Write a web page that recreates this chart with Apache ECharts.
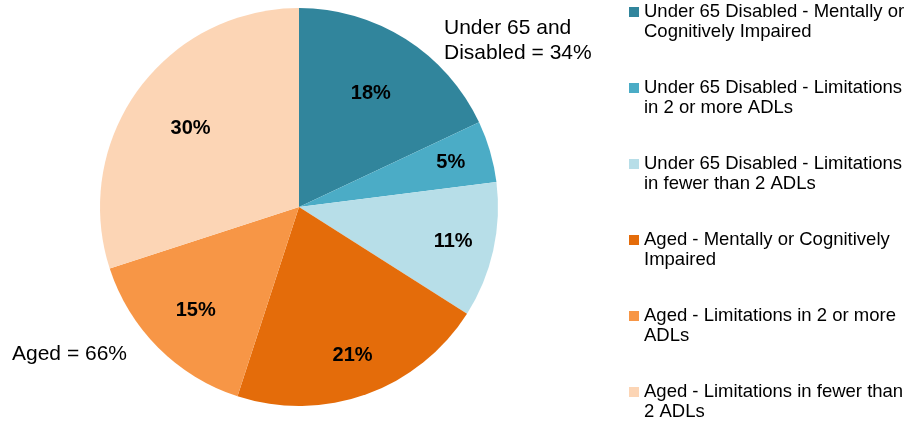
<!DOCTYPE html>
<html>
<head>
<meta charset="utf-8">
<script src="https://cdn.jsdelivr.net/npm/echarts@6/dist/echarts.min.js"></script>
<style>
  html, body { margin: 0; padding: 0; background: #fff; }
  #chart { width: 909px; height: 423px; }
</style>
</head>
<body>
<div id="chart"></div>
<script>
// Long-term care users by age group and level of impairment (percent of total)
const categories = [
  'Under 65 Disabled - Mentally or\nCognitively Impaired',
  'Under 65 Disabled - Limitations\nin 2 or more ADLs',
  'Under 65 Disabled - Limitations\nin fewer than 2 ADLs',
  'Aged - Mentally or Cognitively\nImpaired',
  'Aged - Limitations in 2 or more\nADLs',
  'Aged - Limitations in fewer than\n2 ADLs'
];
const shares = [18, 5, 11, 21, 15, 30];
const colors = ['#31859C', '#4BACC6', '#B7DEE8', '#E46C0A', '#F79646', '#FCD5B5'];
const groupTotals = ['Under 65 and\nDisabled = 34%', 'Aged = 66%'];

// value labels sit at three distances from the centre
const nearLabelSlices = [0, 5];
const midLabelSlices = [4];
const farLabelSlices = [1, 2, 3];

const FONT = 'Liberation Sans, Arial, sans-serif';
const CENTER = [299, 207];
const R = 199;

function sliceData(showIdx) {
  return categories.map((name, i) => ({
    name,
    value: shares[i],
    label: { show: showIdx ? showIdx.includes(i) : false }
  }));
}

// transparent overlay ring whose mid-radius places the value labels
function labelSeries(showIdx, outer) {
  return {
    type: 'pie',
    center: CENTER,
    radius: [0, outer],
    startAngle: 90,
    silent: true,
    animation: false,
    z: 5,
    itemStyle: { color: 'transparent', borderWidth: 0 },
    emphasis: { disabled: true },
    labelLine: { show: false },
    label: {
      position: 'inside',
      formatter: '{c}%',
      color: '#000',
      fontFamily: FONT,
      fontWeight: 'bold',
      fontSize: 20
    },
    data: sliceData(showIdx)
  };
}

const chart = echarts.init(document.getElementById('chart'), null, { renderer: 'canvas' });
chart.setOption({
  backgroundColor: '#fff',
  animation: false,
  color: colors,
  title: [
    {
      text: groupTotals[0], left: 444, top: 16, padding: 0,
      textStyle: { fontFamily: FONT, fontSize: 21, fontWeight: 'normal', color: '#000', lineHeight: 25 }
    },
    {
      text: groupTotals[1], left: 12, top: 342, padding: 0,
      textStyle: { fontFamily: FONT, fontSize: 21, fontWeight: 'normal', color: '#000', lineHeight: 25 }
    }
  ],
  legend: {
    orient: 'vertical',
    left: 629,
    top: 2,
    padding: 0,
    itemGap: 36,
    itemWidth: 10,
    itemHeight: 40,
    // square swatch beside the first text line of each entry
    icon: 'path://M0,0H10V0Z M0,5H10V15H0Z M0,40H10V40Z',
    itemStyle: { borderWidth: 0 },
    textStyle: { fontFamily: FONT, fontSize: 18.5, color: '#000', lineHeight: 20 },
    data: categories,
    selectedMode: false
  },
  series: [
    {
      type: 'pie',
      center: CENTER,
      radius: [0, R],
      startAngle: 90,
      clockwise: true,
      z: 2,
      itemStyle: { borderWidth: 0 },
      emphasis: { disabled: true },
      label: { show: false },
      labelLine: { show: false },
      data: sliceData(null)
    },
    labelSeries(nearLabelSlices, 262),
    labelSeries(midLabelSlices, 286),
    labelSeries(farLabelSlices, 310)
  ]
});
</script>
</body>
</html>
